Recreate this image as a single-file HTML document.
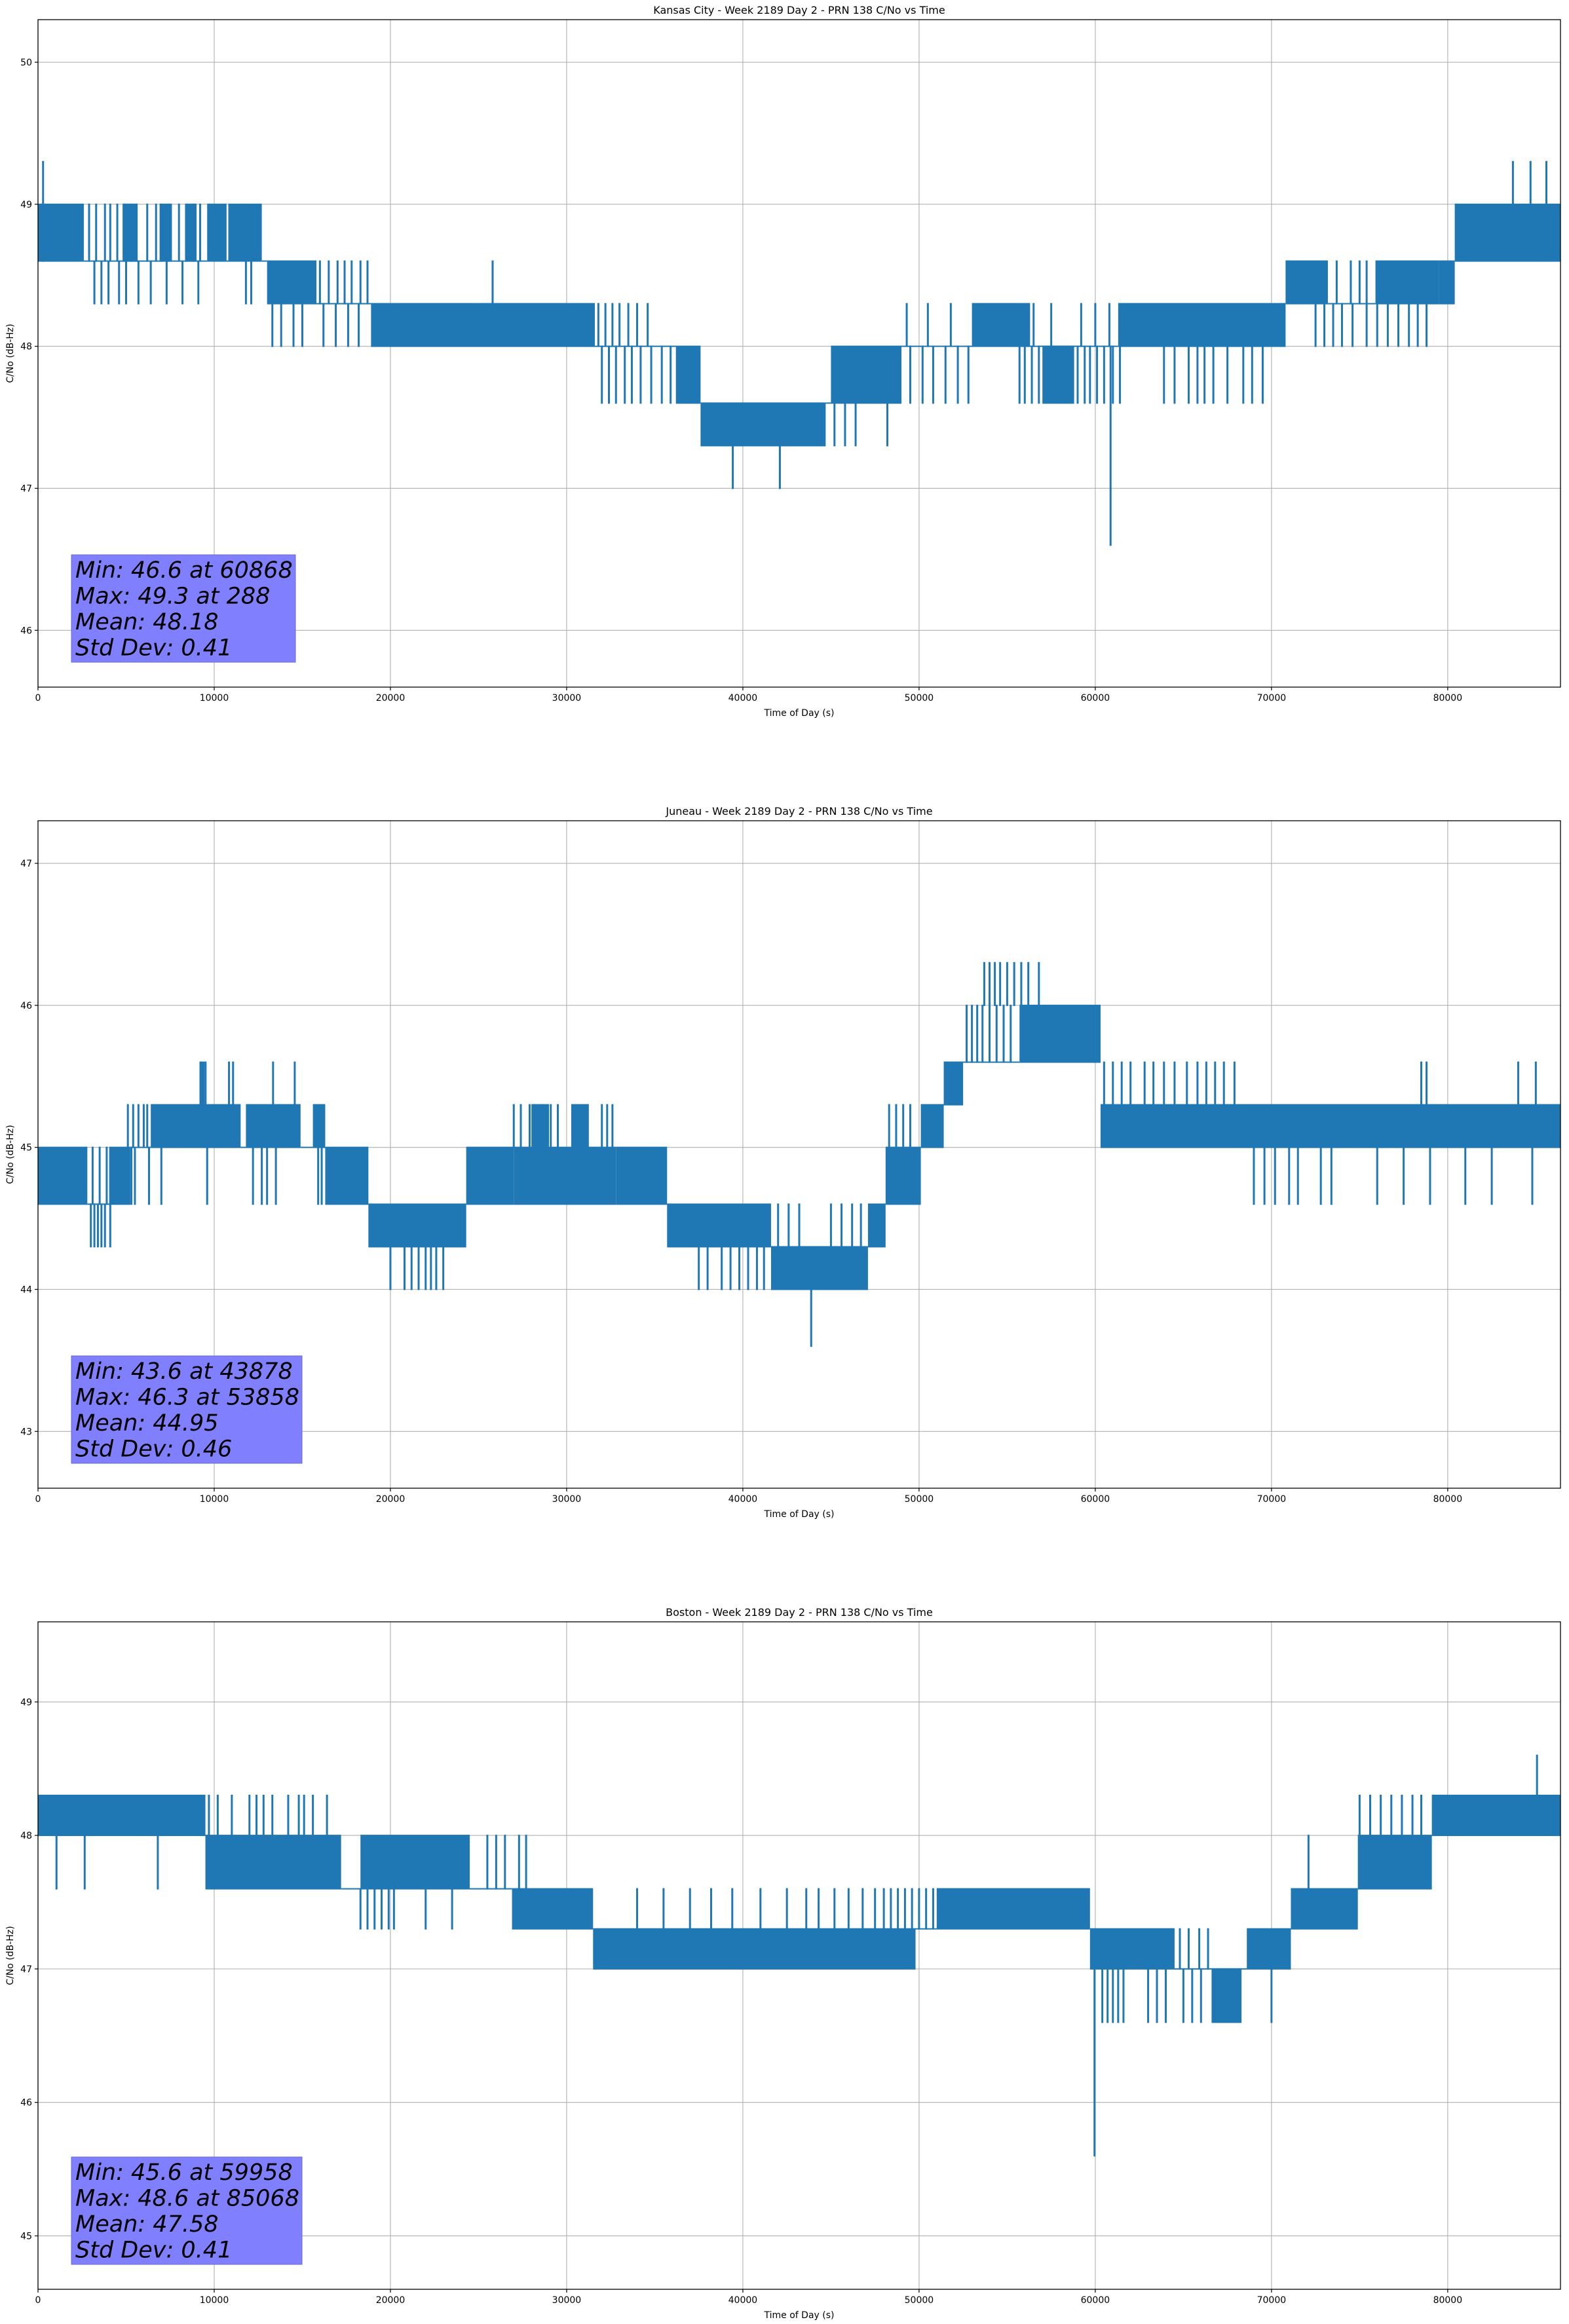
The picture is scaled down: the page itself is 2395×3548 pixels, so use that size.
<!DOCTYPE html>
<html><head><meta charset="utf-8">
<style>
html,body{margin:0;padding:0;background:#fff;}
svg{display:block;font-family:"DejaVu Sans","Liberation Sans",sans-serif;}
</style></head>
<body>
<svg id="fig" xmlns="http://www.w3.org/2000/svg" width="2395" height="3548" viewBox="0 0 2395 3548"></svg>
<script>
// ---------- Kansas City data ----------
const kcBandStart=[0,2600,4800,6900,8400,9600,10700,10800,12700,13000,15800,18900,31600,36200,37600,44700,45000,49000,53000,56300,57000,61300,70800,73200,75900,79500,80400];
const kcBandEnd=[2600,9600,5600,7600,9000,10700,10800,12700,13000,15800,18900,31600,36200,37600,44700,45000,49000,53000,56300,61300,58800,70800,73200,75900,79500,80400,86400];
const kcBandLow=[48.6,48.6,48.6,48.6,48.6,48.6,48.6,48.6,48.6,48.3,48.3,48.0,48.0,47.6,47.3,47.6,47.6,48.0,48.0,48.0,47.6,48.0,48.3,48.3,48.3,48.3,48.6];
const kcBandHigh=[49.0,48.6,49.0,49.0,49.0,49.0,48.6,49.0,48.6,48.6,48.3,48.3,48.0,48.0,47.6,47.6,48.0,48.0,48.3,48.0,48.0,48.3,48.6,48.3,48.6,48.6,49.0];
const kcFlickTime=[288,2900,3300,3800,4100,4500,4900,5300,5600,6200,6700,7000,7400,8000,8400,8800,9200,
 3200,3600,4000,4600,5000,5700,6400,7300,8200,9100,11800,12100,
 16000,16500,17000,17400,17800,18300,18700,13300,13800,14500,15000,16200,16900,17600,18200,25800,
 31800,32200,32600,33000,33500,34000,34600,32000,32400,32800,33300,33700,34200,34800,35400,35900,
 45200,45800,46400,48200,39430,42100,49500,50200,50800,51500,52200,52800,49300,50500,51800,
 55700,56000,56400,56800,59000,59400,59700,60100,60500,61000,61400,56500,57500,59200,60000,60800,
 63900,64500,65300,65800,66200,66700,67500,68400,68900,69500,60868,
 72500,73000,73500,74000,74600,75400,76000,76600,77200,77800,78300,78800,73700,74500,75000,75400,83700,84700,85600];
const kcFlickLow=[48.6,48.6,48.6,48.6,48.6,48.6,48.6,48.6,48.6,48.6,48.6,48.6,48.6,48.6,48.6,48.6,48.6,
 48.3,48.3,48.3,48.3,48.3,48.3,48.3,48.3,48.3,48.3,48.3,48.3,
 48.3,48.3,48.3,48.3,48.3,48.3,48.3,48.0,48.0,48.0,48.0,48.0,48.0,48.0,48.0,48.3,
 48.0,48.0,48.0,48.0,48.0,48.0,48.0,47.6,47.6,47.6,47.6,47.6,47.6,47.6,47.6,47.6,
 47.3,47.3,47.3,47.3,47.0,47.0,47.6,47.6,47.6,47.6,47.6,47.6,48.0,48.0,48.0,
 47.6,47.6,47.6,47.6,47.6,47.6,47.6,47.6,47.6,47.6,47.6,48.0,48.0,48.0,48.0,48.0,
 47.6,47.6,47.6,47.6,47.6,47.6,47.6,47.6,47.6,47.6,46.6,
 48.0,48.0,48.0,48.0,48.0,48.0,48.0,48.0,48.0,48.0,48.0,48.0,48.3,48.3,48.3,48.3,49.0,49.0,49.0];
const kcFlickHigh=[49.3,49.0,49.0,49.0,49.0,49.0,49.0,49.0,49.0,49.0,49.0,49.0,49.0,49.0,49.0,49.0,49.0,
 48.6,48.6,48.6,48.6,48.6,48.6,48.6,48.6,48.6,48.6,48.6,48.6,
 48.6,48.6,48.6,48.6,48.6,48.6,48.6,48.3,48.3,48.3,48.3,48.3,48.3,48.3,48.3,48.6,
 48.3,48.3,48.3,48.3,48.3,48.3,48.3,48.0,48.0,48.0,48.0,48.0,48.0,48.0,48.0,48.0,
 47.6,47.6,47.6,47.6,47.3,47.3,48.0,48.0,48.0,48.0,48.0,48.0,48.3,48.3,48.3,
 48.0,48.0,48.0,48.0,48.0,48.0,48.0,48.0,48.0,48.0,48.0,48.3,48.3,48.3,48.3,48.3,
 48.0,48.0,48.0,48.0,48.0,48.0,48.0,48.0,48.0,48.0,48.0,
 48.3,48.3,48.3,48.3,48.3,48.3,48.3,48.3,48.3,48.3,48.3,48.3,48.6,48.6,48.6,48.6,49.3,49.3,49.3];
const kcStats=["Min: 46.6 at 60868","Max: 49.3 at 288","Mean: 48.18","Std Dev: 0.41"];
const kcYTicks=[46,47,48,49,50];

// ---------- Juneau data ----------
const junBandStart=[0,2800,4040,5240,6400,11500,11800,14900,15600,16300,18750,24300,27000,28000,30260,32800,35700,41600,47100,48100,50100,51400,52500,55700,60300];
const junBandEnd=[2800,4040,5240,6400,11500,11800,14900,15600,16300,18750,24300,27000,32800,29000,31260,35700,41600,47100,48100,50100,51400,52500,55700,60300,86400];
const junBandLow=[44.6,44.6,44.6,45.0,45.0,45.0,45.0,45.0,45.0,44.6,44.3,44.6,44.6,45.0,45.0,44.6,44.3,44.0,44.3,44.6,45.0,45.3,45.6,45.6,45.0];
const junBandHigh=[45.0,44.6,45.0,45.0,45.3,45.0,45.3,45.0,45.3,45.0,44.6,45.0,45.0,45.3,45.3,45.0,44.6,44.3,44.6,45.0,45.3,45.6,45.6,46.0,45.3];
const junFlickTime=[5100,5400,5700,6000,6200,9220,9300,9400,9510,10840,11070,13340,14570,
 5300,5500,6300,7000,9600,12200,12700,13000,13500,15900,16100,
 3000,3200,3400,3600,3800,4100,3100,3500,3900,
 20000,20800,21200,21600,22000,22300,22600,23000,
 27000,27400,27900,28200,28600,29100,29500,32000,32300,32600,
 37500,38000,38800,39300,39800,40300,40800,41200,
 42000,42600,43200,45000,45600,46200,46700,43878,
 53700,54000,54300,54600,55000,55400,55800,56200,56800,
 52700,53000,53300,53600,54000,54400,54800,55200,
 48300,48700,49100,49500,
 60500,61000,61500,62000,62800,63300,63900,64500,65200,65800,66300,66800,67300,67900,
 69000,69600,70200,71000,71500,72800,73400,76000,77500,79000,81000,82500,84800,
 78500,78800,84000,85000];
const junFlickLow=[45.0,45.0,45.0,45.0,45.0,45.3,45.3,45.3,45.3,45.3,45.3,45.3,45.3,
 44.6,44.6,44.6,44.6,44.6,44.6,44.6,44.6,44.6,44.6,44.6,
 44.3,44.3,44.3,44.3,44.3,44.3,44.6,44.6,44.6,
 44.0,44.0,44.0,44.0,44.0,44.0,44.0,44.0,
 45.0,45.0,45.0,45.0,45.0,45.0,45.0,45.0,45.0,45.0,
 44.0,44.0,44.0,44.0,44.0,44.0,44.0,44.0,
 44.3,44.3,44.3,44.3,44.3,44.3,44.3,43.6,
 46.0,46.0,46.0,46.0,46.0,46.0,46.0,46.0,46.0,
 45.6,45.6,45.6,45.6,45.6,45.6,45.6,45.6,
 45.0,45.0,45.0,45.0,
 45.3,45.3,45.3,45.3,45.3,45.3,45.3,45.3,45.3,45.3,45.3,45.3,45.3,45.3,
 44.6,44.6,44.6,44.6,44.6,44.6,44.6,44.6,44.6,44.6,44.6,44.6,44.6,
 45.3,45.3,45.3,45.3];
const junFlickHigh=[45.3,45.3,45.3,45.3,45.3,45.6,45.6,45.6,45.6,45.6,45.6,45.6,45.6,
 45.0,45.0,45.0,45.0,45.0,45.0,45.0,45.0,45.0,45.0,45.0,
 44.6,44.6,44.6,44.6,44.6,44.6,45.0,45.0,45.0,
 44.3,44.3,44.3,44.3,44.3,44.3,44.3,44.3,
 45.3,45.3,45.3,45.3,45.3,45.3,45.3,45.3,45.3,45.3,
 44.3,44.3,44.3,44.3,44.3,44.3,44.3,44.3,
 44.6,44.6,44.6,44.6,44.6,44.6,44.6,44.0,
 46.3,46.3,46.3,46.3,46.3,46.3,46.3,46.3,46.3,
 46.0,46.0,46.0,46.0,46.0,46.0,46.0,46.0,
 45.3,45.3,45.3,45.3,
 45.6,45.6,45.6,45.6,45.6,45.6,45.6,45.6,45.6,45.6,45.6,45.6,45.6,45.6,
 45.0,45.0,45.0,45.0,45.0,45.0,45.0,45.0,45.0,45.0,45.0,45.0,45.0,
 45.6,45.6,45.6,45.6];
const junStats=["Min: 43.6 at 43878","Max: 46.3 at 53858","Mean: 44.95","Std Dev: 0.46"];
const junYTicks=[43,44,45,46,47];

// ---------- Boston data ----------
const bosBandStart=[0,9500,17200,18300,24500,26900,31500,49800,51000,59700,64500,66600,68600,71100,74900,79100];
const bosBandEnd=[9500,17200,18300,24500,26900,31500,49800,51000,59700,64500,68600,68300,71100,74900,79100,86400];
const bosBandLow=[48.0,47.6,47.6,47.6,47.6,47.3,47.0,47.3,47.3,47.0,47.0,46.6,47.0,47.3,47.6,48.0];
const bosBandHigh=[48.3,48.0,47.6,48.0,47.6,47.6,47.3,47.3,47.6,47.3,47.0,47.0,47.3,47.6,48.0,48.3];
const bosFlickTime=[1050,2650,6800,
 9700,10200,11000,12000,12400,12800,13300,14200,14800,15100,15600,16400,
 18300,18700,19100,19500,19900,20200,22000,23500,
 25500,26000,26500,27300,27700,
 34000,35500,37000,38200,39400,41000,42500,43600,44300,45200,46000,46800,47500,48000,48400,48800,49200,49600,50000,50400,50800,
 60400,60700,61000,61300,61600,63000,63500,64000,65000,65500,66000,59958,
 64800,65300,65900,66400,70000,72100,
 75000,75600,76200,76800,77400,78000,78500,85068];
const bosFlickLow=[47.6,47.6,47.6,
 48.0,48.0,48.0,48.0,48.0,48.0,48.0,48.0,48.0,48.0,48.0,48.0,
 47.3,47.3,47.3,47.3,47.3,47.3,47.3,47.3,
 47.6,47.6,47.6,47.6,47.6,
 47.3,47.3,47.3,47.3,47.3,47.3,47.3,47.3,47.3,47.3,47.3,47.3,47.3,47.3,47.3,47.3,47.3,47.3,47.3,47.3,47.3,
 46.6,46.6,46.6,46.6,46.6,46.6,46.6,46.6,46.6,46.6,46.6,45.6,
 47.0,47.0,47.0,47.0,46.6,47.6,
 48.0,48.0,48.0,48.0,48.0,48.0,48.0,48.3];
const bosFlickHigh=[48.0,48.0,48.0,
 48.3,48.3,48.3,48.3,48.3,48.3,48.3,48.3,48.3,48.3,48.3,48.3,
 47.6,47.6,47.6,47.6,47.6,47.6,47.6,47.6,
 48.0,48.0,48.0,48.0,48.0,
 47.6,47.6,47.6,47.6,47.6,47.6,47.6,47.6,47.6,47.6,47.6,47.6,47.6,47.6,47.6,47.6,47.6,47.6,47.6,47.6,47.6,
 47.0,47.0,47.0,47.0,47.0,47.0,47.0,47.0,47.0,47.0,47.0,47.0,
 47.3,47.3,47.3,47.3,47.0,48.0,
 48.3,48.3,48.3,48.3,48.3,48.3,48.3,48.6];
const bosStats=["Min: 45.6 at 59958","Max: 48.6 at 85068","Mean: 47.58","Std Dev: 0.41"];
const bosYTicks=[45,46,47,48,49];

const xTicks=[0,10000,20000,30000,40000,50000,60000,70000,80000];
const xTickLabels=["0","10000","20000","30000","40000","50000","60000","70000","80000"];

// ---------- rendering ----------
const NS="http://www.w3.org/2000/svg";
const svg=document.getElementById('fig');
const LEFT=58, RIGHT=2382, XMAX=86400;
function mk(tag,attrs,parent){const e=document.createElementNS(NS,tag);for(const k in attrs)e.setAttribute(k,attrs[k]);parent.appendChild(e);return e;}
function xs(t){return LEFT+(t/XMAX)*(RIGHT-LEFT);}

function drawChart(cfg){
  const g=mk('g',{},svg);
  
  
  const top=cfg.top,bot=cfg.bottom;
  const ys=v=>bot-(v-cfg.ymin)/(cfg.ymax-cfg.ymin)*(bot-top);
  xTicks.forEach(t=>{const l=mk('line',{x1:xs(t),x2:xs(t),y1:top,y2:bot,stroke:'#b0b0b0','stroke-width':1.1},g);
    });
  cfg.yTicks.forEach(v=>{const l=mk('line',{x1:LEFT,x2:RIGHT,y1:ys(v),y2:ys(v),stroke:'#b0b0b0','stroke-width':1.1},g);
    });
  const sg=mk('g',{fill:'#1f77b4',stroke:'#1f77b4'},g);
  
  
  for(let i=0;i<cfg.bs.length;i++){
    const x1=xs(cfg.bs[i]),x2=xs(cfg.be[i]);
    const y1=ys(cfg.bh[i]),y2=ys(cfg.bl[i]);
    const r=mk('rect',{x:x1,y:y1-1,width:Math.max(1,x2-x1),height:(y2-y1)+2,stroke:'none'},sg);
    
    
  }
  for(let i=0;i<cfg.ft.length;i++){
    const x=xs(cfg.ft[i]);
    const l=mk('line',{x1:x,x2:x,y1:ys(cfg.fh[i])-1,y2:ys(cfg.fl[i])+1,'stroke-width':3},sg);
    
    
  }
  const sp=mk('rect',{x:LEFT,y:top,width:RIGHT-LEFT,height:bot-top,fill:'none',stroke:'#000','stroke-width':1.3},g);
  
  xTicks.forEach((t,i)=>{mk('line',{x1:xs(t),x2:xs(t),y1:bot,y2:bot+5,stroke:'#000','stroke-width':1.2},g);
    const tx=mk('text',{x:xs(t),y:bot+21,'font-size':14,'text-anchor':'middle',fill:'#000'},g);tx.textContent=xTickLabels[i];
    });
  cfg.yTicks.forEach(v=>{mk('line',{x1:LEFT-5,x2:LEFT,y1:ys(v),y2:ys(v),stroke:'#000','stroke-width':1.2},g);
    const tx=mk('text',{x:LEFT-9,y:ys(v)+5,'font-size':14,'text-anchor':'end',fill:'#000'},g);tx.textContent=String(v);
    });
  const xl=mk('text',{x:(LEFT+RIGHT)/2,y:bot+44,'font-size':14,'text-anchor':'middle'},g);xl.textContent='Time of Day (s)';
  
  const yc=(top+bot)/2;
  const yl=mk('text',{x:20,y:yc,'font-size':14,'text-anchor':'middle',transform:`rotate(-90 20 ${yc})`},g);yl.textContent='C/No (dB-Hz)';
  
  const ti=mk('text',{x:(LEFT+RIGHT)/2,y:top-9,'font-size':16,'text-anchor':'middle'},g);ti.textContent=cfg.title;
  
  const bb=bot-38, bt=bb-164;
  const box=mk('rect',{x:109,y:bt,width:cfg.boxW,height:164,fill:'#8080ff',stroke:'#6a6ad0','stroke-width':1},g);
  
  cfg.stats.forEach((s,i)=>{const tx=mk('text',{x:115,y:bt+35+i*39.5,'font-size':35,'font-style':'italic',fill:'#000'},g);tx.textContent=s;
    });
}

drawChart({name:'kansas-city-chart',title:'Kansas City - Week 2189 Day 2 - PRN 138 C/No vs Time',top:30,bottom:1049,ymin:45.6,ymax:50.3,yTicks:kcYTicks,
  bs:kcBandStart,be:kcBandEnd,bl:kcBandLow,bh:kcBandHigh,ft:kcFlickTime,fl:kcFlickLow,fh:kcFlickHigh,stats:kcStats,boxW:342});
drawChart({name:'juneau-chart',title:'Juneau - Week 2189 Day 2 - PRN 138 C/No vs Time',top:1253,bottom:2272,ymin:42.6,ymax:47.3,yTicks:junYTicks,
  bs:junBandStart,be:junBandEnd,bl:junBandLow,bh:junBandHigh,ft:junFlickTime,fl:junFlickLow,fh:junFlickHigh,stats:junStats,boxW:352});
drawChart({name:'boston-chart',title:'Boston - Week 2189 Day 2 - PRN 138 C/No vs Time',top:2476,bottom:3495,ymin:44.6,ymax:49.6,yTicks:bosYTicks,
  bs:bosBandStart,be:bosBandEnd,bl:bosBandLow,bh:bosBandHigh,ft:bosFlickTime,fl:bosFlickLow,fh:bosFlickHigh,stats:bosStats,boxW:352});
</script>
</body></html>
